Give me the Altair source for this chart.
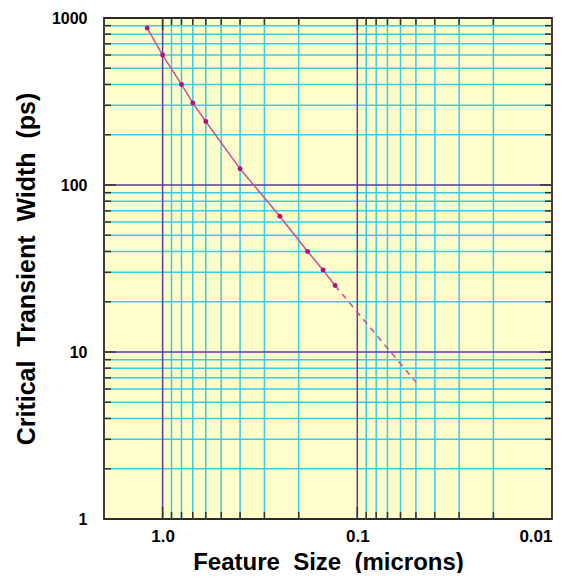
import altair as alt
import pandas as pd

# ---- data ----
feature_size = [1.2, 1.0, 0.8, 0.7, 0.6, 0.4, 0.25, 0.18, 0.15, 0.13]
transient_ps = [870, 600, 400, 310, 240, 125, 65, 40, 31, 25]
extrap_size = [0.13, 0.05]
extrap_ps = [25, 6.6]

x_minor = [0.9, 0.8, 0.7, 0.6, 0.5, 0.4, 0.3, 0.2,
           0.09, 0.08, 0.07, 0.06, 0.05, 0.04, 0.03, 0.02]
x_major = [1.0, 0.1]
y_minor = [2, 3, 4, 5, 6, 7, 8, 9,
           20, 30, 40, 50, 60, 70, 80, 90,
           200, 300, 400, 500, 600, 700, 800, 900]
y_major = [10, 100]
x_tick_values = [1.0, 0.1, 0.01]
y_tick_values = [1, 10, 100, 1000]

YELLOW = "#FFFDC9"
CYAN = "#3ACBEA"
PURPLE = "#5A3C9E"
LINE = "#CC4C9C"
POINT = "#B3107F"
TICK = "#333333"
FONT = "Liberation Sans"

W, H = 448, 501
MINOR_LEN, MAJOR_LEN = 7, 12

xs = alt.Scale(type="log", domain=[0.01, 2], reverse=True, nice=False)
ys = alt.Scale(type="log", domain=[1, 1000], nice=False)

x_axis = alt.Axis(
    values=x_tick_values,
    labelExpr="datum.value == 1 ? '1.0' : format(datum.value, '~g')",
    title="Feature \u00a0Size \u00a0(microns)",
    domain=False, ticks=False, grid=False, tickSize=0,
    labelFont=FONT, labelFontSize=17, labelFontWeight="bold", labelColor="black",
    labelPadding=9, labelFlush=True, labelOverlap=False,
    titleFont=FONT, titleFontSize=24, titleFontWeight="bold", titleColor="black",
    titleX=W / 2, titleY=50, titleAlign="center", titleBaseline="alphabetic",
)
y_axis = alt.Axis(
    values=y_tick_values, format="d",
    title="Critical \u00a0Transient \u00a0Width \u00a0(ps)",
    domain=False, ticks=False, grid=False, tickSize=0,
    labelFont=FONT, labelFontSize=16, labelFontWeight="bold", labelColor="black",
    labelPadding=17, labelFlush=False, labelOverlap=False,
    titleFont=FONT, titleFontSize=25, titleFontWeight="bold", titleColor="black",
    titleX=-70, titleY=H / 2, titleAngle=270, titleAlign="center", titleBaseline="alphabetic",
)

df_xmin = pd.DataFrame({"v": x_minor})
df_xmaj = pd.DataFrame({"v": x_major})
df_ymin = pd.DataFrame({"v": y_minor})
df_ymaj = pd.DataFrame({"v": y_major})

def vx(df):
    return alt.Chart(df).encode(x=alt.X("v:Q", scale=xs, axis=x_axis))

def hy(df):
    return alt.Chart(df).encode(y=alt.Y("v:Q", scale=ys, axis=y_axis))

grid_layers = [
    vx(df_xmin).mark_rule(color=CYAN, strokeWidth=1.5),
    hy(df_ymin).mark_rule(color=CYAN, strokeWidth=1.5),
    vx(df_xmaj).mark_rule(color=PURPLE, strokeWidth=1.5),
    hy(df_ymaj).mark_rule(color=PURPLE, strokeWidth=1.5),
]

tick_layers = []
for df, L in [(df_xmin, MINOR_LEN), (df_xmaj, MAJOR_LEN)]:
    tick_layers.append(vx(df).mark_rule(color=TICK, strokeWidth=1.5).encode(y=alt.value(H), y2=alt.value(H - L)))
    tick_layers.append(vx(df).mark_rule(color=TICK, strokeWidth=1.5).encode(y=alt.value(0), y2=alt.value(L)))
for df, L in [(df_ymin, MINOR_LEN), (df_ymaj, MAJOR_LEN)]:
    tick_layers.append(hy(df).mark_rule(color=TICK, strokeWidth=1.5).encode(x=alt.value(0), x2=alt.value(L)))
    tick_layers.append(hy(df).mark_rule(color=TICK, strokeWidth=1.5).encode(x=alt.value(W), x2=alt.value(W - L)))

df_main = pd.DataFrame({"size": feature_size, "ps": transient_ps})
df_ext = pd.DataFrame({"size": extrap_size, "ps": extrap_ps})

enc = dict(
    x=alt.X("size:Q", scale=xs, axis=x_axis),
    y=alt.Y("ps:Q", scale=ys, axis=y_axis),
)
line_solid = alt.Chart(df_main).mark_line(color=LINE, strokeWidth=1.5).encode(**enc)
line_dash = alt.Chart(df_ext).mark_line(color=LINE, strokeWidth=1.5, strokeDash=[6, 5]).encode(**enc)
points = alt.Chart(df_main).mark_circle(color=POINT, size=24, opacity=1).encode(**enc)

chart = alt.layer(*grid_layers, *tick_layers, line_solid, line_dash, points).properties(
    width=W, height=H,
    padding={"left": 96, "top": 10, "right": 8, "bottom": 54},
    autosize=alt.AutoSizeParams(type="none"),
    background="white",
).configure_view(fill=YELLOW, stroke="#2b2b2b", strokeWidth=1.8)

chart.save("out.html", embed_options={"renderer": "svg", "actions": False})
